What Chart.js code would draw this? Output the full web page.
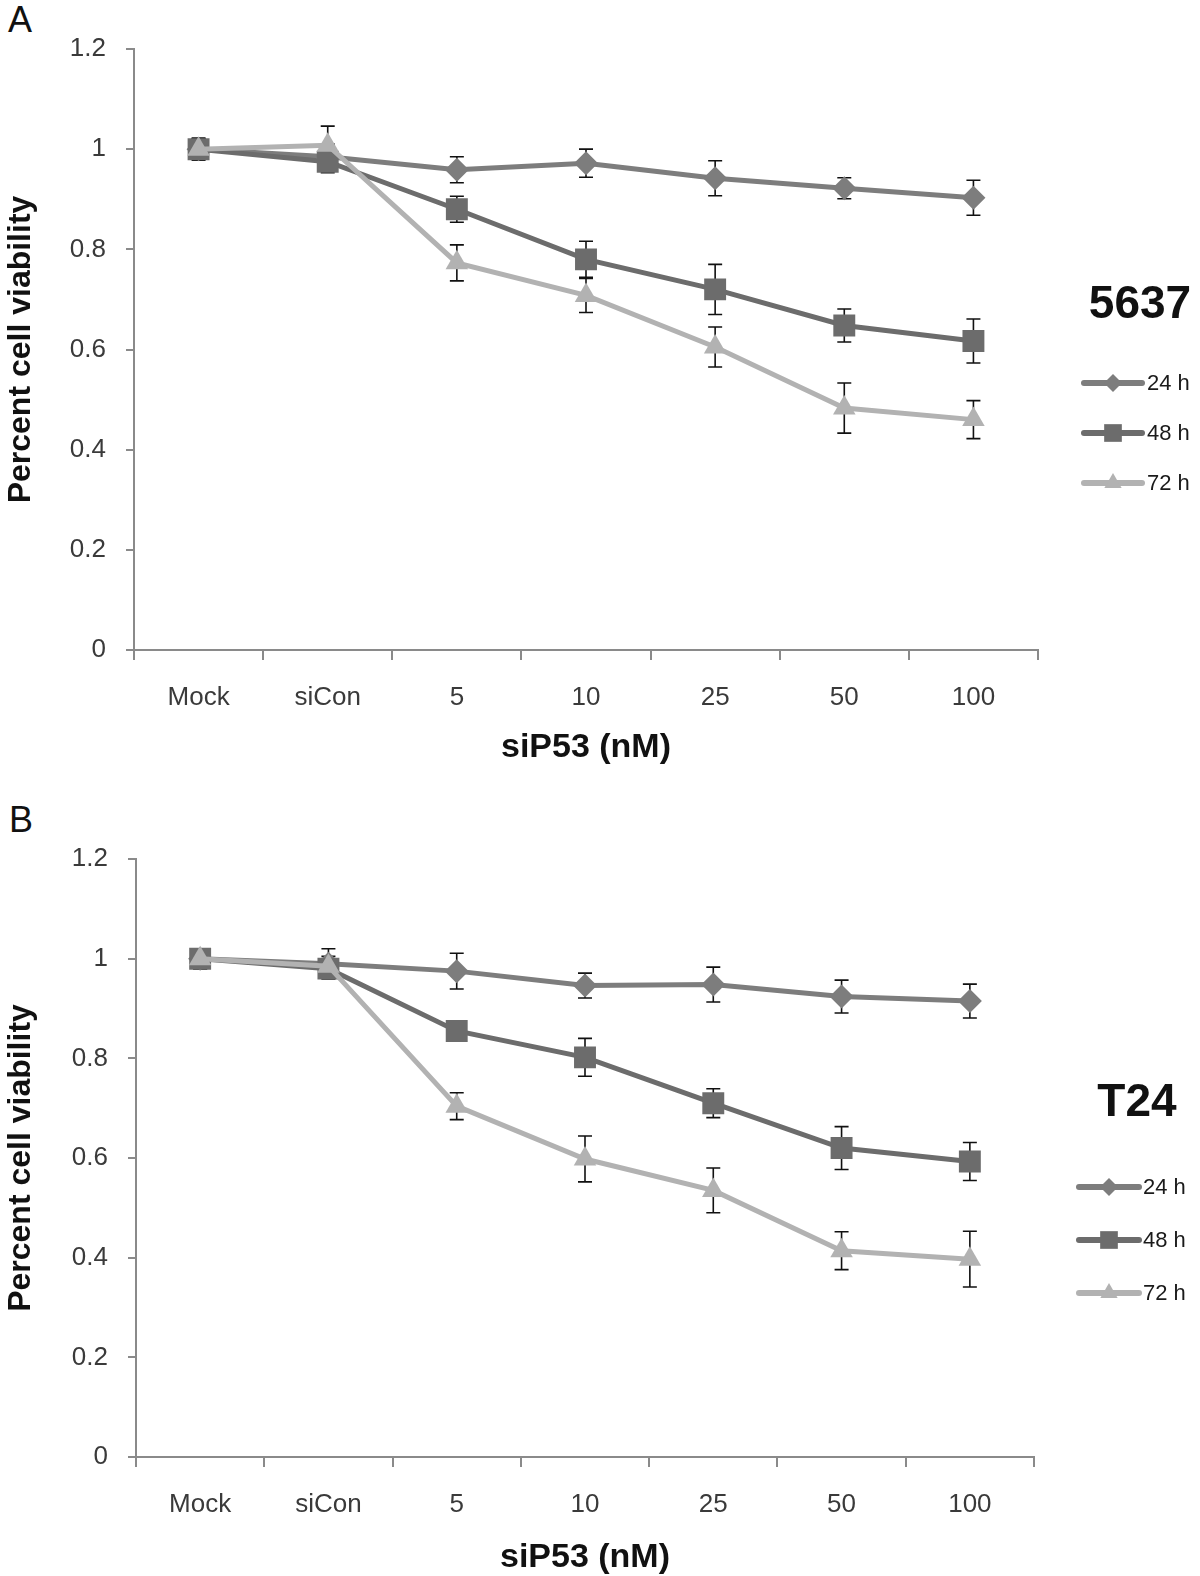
<!DOCTYPE html>
<html>
<head>
<meta charset="utf-8">
<script src="https://cdn.jsdelivr.net/npm/chart.js@4.4.1/dist/chart.umd.min.js"></script>
<style>
  html, body { margin: 0; padding: 0; background: #fff; overflow: hidden; }
  body { width: 1200px; height: 1576px; position: relative; font-family: "Liberation Sans", Arial, sans-serif; }
  .panel { position: absolute; left: 0; width: 1200px; }
  .letter { position: absolute; font-size: 36px; line-height: 1; color: #111; }
</style>
</head>
<body>
<div class="letter" style="left:8px;top:2px">A</div>
<div class="panel" style="top:0;height:790px"><canvas id="chartA"></canvas></div>
<div class="letter" style="left:9px;top:802px">B</div>
<div class="panel" style="top:800px;height:800px"><canvas id="chartB"></canvas></div>

<script>
  // Categories and series names
  const categories = ['Mock', 'siCon', '5', '10', '25', '50', '100'];
  const seriesNames = ['24 h', '48 h', '72 h'];
  const yTicks = [0, 0.2, 0.4, 0.6, 0.8, 1, 1.2];

  // Panel A - 5637 cells
  const a24 = [1.0, 0.985, 0.959, 0.972, 0.942, 0.922, 0.903];
  const a48 = [1.0, 0.975, 0.880, 0.780, 0.720, 0.648, 0.617];
  const a72 = [1.0, 1.008, 0.773, 0.708, 0.605, 0.483, 0.460];
  const a24Err = [0.020, 0.025, 0.026, 0.028, 0.035, 0.021, 0.035];
  const a48Err = [0.022, 0.022, 0.026, 0.036, 0.050, 0.033, 0.044];
  const a72Err = [0.020, 0.038, 0.036, 0.034, 0.040, 0.050, 0.038];

  // Panel B - T24 cells
  const b24 = [1.0, 0.990, 0.975, 0.946, 0.948, 0.924, 0.915];
  const b48 = [1.0, 0.980, 0.855, 0.802, 0.710, 0.620, 0.593];
  const b72 = [1.0, 0.985, 0.704, 0.598, 0.535, 0.414, 0.397];
  const b24Err = [0.020, 0.030, 0.036, 0.025, 0.035, 0.033, 0.034];
  const b48Err = [0.020, 0.020, 0.020, 0.038, 0.029, 0.043, 0.038];
  const b72Err = [0.020, 0.020, 0.027, 0.046, 0.045, 0.038, 0.056];

  const FONT = '"Liberation Sans", Arial, sans-serif';
  const axisColor = '#8a8a8a';
  const seriesColors = ['#7d7d7d', '#6c6c6c', '#b2b2b2'];
  const seriesStyles = ['rectRot', 'rect', 'triangle'];
  const pointSizes = [12, 15.5, 13];
  const legendSizes = [9, 12.5, 10];

  // Error bars, drawn under the lines and markers
  const errorBars = {
    id: 'errorBars',
    beforeDatasetsDraw(chart) {
      const ctx = chart.ctx;
      const yScale = chart.scales.y;
      ctx.save();
      ctx.strokeStyle = '#111';
      ctx.lineWidth = 1.6;
      chart.data.datasets.forEach((ds, i) => {
        const meta = chart.getDatasetMeta(i);
        meta.data.forEach((pt, j) => {
          const top = yScale.getPixelForValue(ds.data[j] + ds.errors[j]);
          const bot = yScale.getPixelForValue(ds.data[j] - ds.errors[j]);
          ctx.beginPath();
          ctx.moveTo(pt.x, top); ctx.lineTo(pt.x, bot);
          ctx.moveTo(pt.x - 7, top); ctx.lineTo(pt.x + 7, top);
          ctx.moveTo(pt.x - 7, bot); ctx.lineTo(pt.x + 7, bot);
          ctx.stroke();
        });
      });
      ctx.restore();
    }
  };

  // Legend on the right with cell line name above it
  const sideLegend = {
    id: 'sideLegend',
    afterDraw(chart, args, opts) {
      const ctx = chart.ctx;
      ctx.save();
      ctx.fillStyle = '#111';
      ctx.font = 'bold 46px ' + FONT;
      ctx.textAlign = 'center';
      ctx.textBaseline = 'middle';
      ctx.fillText(opts.title, opts.titleX, opts.titleY);

      seriesNames.forEach((name, i) => {
        const y = opts.rows[i];
        ctx.strokeStyle = seriesColors[i];
        ctx.lineWidth = 6;
        ctx.lineCap = 'round';
        ctx.beginPath();
        ctx.moveTo(opts.x0, y);
        ctx.lineTo(opts.x1, y);
        ctx.stroke();
        ctx.fillStyle = seriesColors[i];
        Chart.helpers.drawPoint(ctx, {
          pointStyle: seriesStyles[i], radius: legendSizes[i], rotation: 0, borderWidth: 0
        }, (opts.x0 + opts.x1) / 2, y);
        ctx.fillStyle = '#1a1a1a';
        ctx.font = '22px ' + FONT;
        ctx.textAlign = 'left';
        ctx.fillText(name, opts.textX, y + 1);
      });
      ctx.restore();
    }
  };

  function makeChart(canvasId, values, errors, layout) {
    const datasets = values.map((v, i) => ({
      label: seriesNames[i],
      data: v,
      errors: errors[i],
      borderColor: seriesColors[i],
      backgroundColor: seriesColors[i],
      borderWidth: 5,
      pointStyle: seriesStyles[i],
      pointRadius: pointSizes[i],
      pointHoverRadius: pointSizes[i],
      pointBorderWidth: 0,
      tension: 0,
      order: 2 - i
    }));

    return new Chart(document.getElementById(canvasId), {
      type: 'line',
      data: { labels: categories, datasets: datasets },
      plugins: [errorBars, sideLegend],
      options: {
        responsive: true,
        maintainAspectRatio: false,
        animation: false,
        layout: { padding: { top: layout.top, right: layout.right, left: 0, bottom: 0 } },
        plugins: {
          legend: { display: false },
          tooltip: { enabled: false },
          sideLegend: layout.legend
        },
        scales: {
          x: {
            type: 'category',
            offset: true,
            grid: { offset: true, drawOnChartArea: false, tickLength: 10, color: axisColor, lineWidth: 2 },
            border: { display: true, color: axisColor, width: 2 },
            ticks: { font: { family: FONT, size: 26 }, color: '#3a3a3a', padding: 22, maxRotation: 0, autoSkip: false },
            title: {
              display: true, text: 'siP53 (nM)', color: '#111',
              font: { family: FONT, size: 34, weight: 'bold' },
              padding: { top: 0, bottom: 22 }
            },
            afterFit: s => { s.height = layout.xHeight; }
          },
          y: {
            min: 0,
            max: 1.2,
            afterBuildTicks: s => { s.ticks = yTicks.map(v => ({ value: v })); },
            grid: { drawOnChartArea: false, tickLength: 8, color: axisColor, lineWidth: 2 },
            border: { display: true, color: axisColor, width: 2 },
            ticks: {
              font: { family: FONT, size: 26 }, color: '#3a3a3a', padding: 20,
              callback: v => String(Number(v.toFixed(1)))
            },
            title: {
              display: true, text: 'Percent cell viability', color: '#111',
              font: { family: FONT, size: 32, weight: 'bold' },
              padding: { top: 2, bottom: 0 }
            },
            afterFit: s => { s.width = layout.yWidth; }
          }
        }
      }
    });
  }

  makeChart('chartA', [a24, a48, a72], [a24Err, a48Err, a72Err], {
    top: 49, right: 162, yWidth: 134, xHeight: 140,
    legend: { title: '5637', titleX: 1140, titleY: 305, rows: [383, 433, 483], x0: 1084, x1: 1142, textX: 1147 }
  });

  makeChart('chartB', [b24, b48, b72], [b24Err, b48Err, b72Err], {
    top: 59, right: 166, yWidth: 136, xHeight: 143,
    legend: { title: 'T24', titleX: 1137, titleY: 303, rows: [387, 440, 493], x0: 1079, x1: 1139, textX: 1143 }
  });
</script>
</body>
</html>
